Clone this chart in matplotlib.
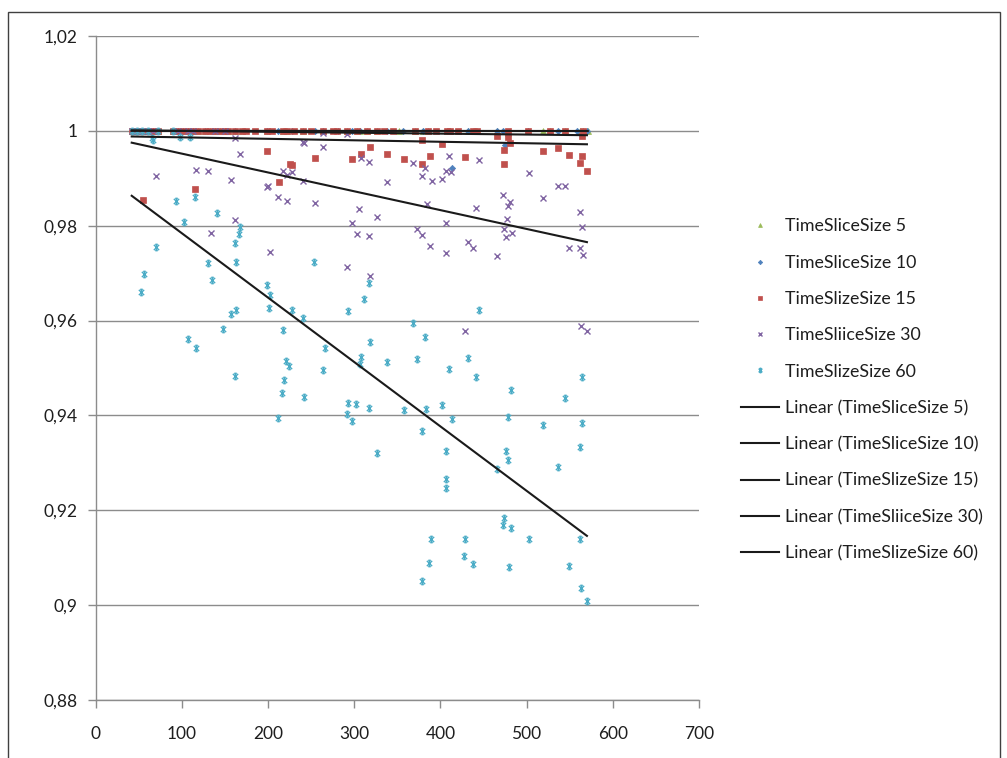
import numpy as np
import matplotlib
matplotlib.use("Agg")
import matplotlib.pyplot as plt
from matplotlib.path import Path
from matplotlib.patches import Rectangle

plt.rcParams['font.family'] = ['Lato', 'DejaVu Sans']

# ---------------- data ----------------
y_ticks = [0.88, 0.90, 0.92, 0.94, 0.96, 0.98, 1.00, 1.02]
y_tick_labels = ["0,88", "0,9", "0,92", "0,94", "0,96", "0,98", "1", "1,02"]
x_ticks = [0, 100, 200, 300, 400, 500, 600, 700]
x_tick_labels = ["0", "100", "200", "300", "400", "500", "600", "700"]

series_names = ["TimeSliceSize 5", "TimeSliceSize 10", "TimeSlizeSize 15",
                "TimeSliiceSize 30", "TimeSlizeSize 60"]

tss5_x = [42, 48, 54, 61, 67, 72.5, 90, 96, 101.5, 107, 113, 119, 127, 133, 139, 144,
          150, 154, 162, 170, 199, 217.5, 222, 241, 264, 292, 303, 307, 315, 326.5,
          352, 371, 380, 386, 408, 411, 432, 438, 442.5, 466, 478.5, 502, 519, 527,
          544, 562, 565, 571]
tss5_y = [1.0, 1.0, 1.0, 1.0, 1.0, 1.0, 1.0, 1.0, 1.0, 1.0, 1.0, 1.0, 1.0, 1.0, 1.0, 1.0,
          1.0, 1.0, 1.0, 1.0, 1.0, 1.0, 1.0, 1.0, 1.0, 1.0, 1.0, 1.0, 1.0, 1.0,
          1.0, 1.0, 1.0, 1.0, 1.0, 1.0, 1.0, 1.0, 1.0, 1.0, 0.9996, 1.0, 1.0, 1.0,
          1.0, 1.0, 1.0, 1.0]

tss10_x = [42, 48, 54, 61, 67, 90, 96, 101.5, 107, 113, 127, 139, 150, 162, 199, 212,
           228, 255, 264, 281, 297.5, 307, 338, 357, 380, 413.5, 432, 466, 473, 475,
           502, 537, 558, 570]
tss10_y = [1.0, 1.0, 1.0, 1.0, 1.0, 1.0, 1.0, 1.0, 1.0, 1.0, 1.0, 1.0, 1.0, 1.0, 1.0, 1.0,
           1.0, 1.0, 1.0, 1.0, 1.0, 1.0, 1.0, 1.0, 1.0, 0.9922, 1.0, 1.0, 1.0, 0.9970,
           1.0, 1.0, 1.0, 1.0]

tss15_x = [42, 48, 54, 61, 67, 72.5, 90, 96, 101.5, 107, 113, 119, 127, 133, 139, 144,
           150, 154, 162, 170, 175, 185, 199, 205, 217.5, 222, 230, 241, 250, 264, 275,
           280, 292, 303, 315, 326.5, 335, 345, 371, 386, 395, 408, 411, 420, 438,
           442.5, 478.5, 502, 527, 544, 565,
           55, 115.5, 199, 213, 226, 228, 254.5, 297.5, 308, 318, 338, 358, 379, 379,
           388, 401.5, 429, 466, 474, 474, 481, 478, 519, 537, 549.5, 562, 564, 564, 570]
tss15_y = [1.0, 1.0, 1.0, 1.0, 1.0, 1.0, 1.0, 1.0, 1.0, 1.0, 1.0, 1.0, 1.0, 1.0, 1.0, 1.0,
           1.0, 1.0, 1.0, 1.0, 1.0, 1.0, 1.0, 1.0, 1.0, 1.0, 1.0, 1.0, 1.0, 1.0, 1.0,
           1.0, 1.0, 1.0, 1.0, 1.0, 1.0, 1.0, 1.0, 1.0, 1.0, 1.0, 1.0, 1.0, 1.0,
           1.0, 1.0, 1.0, 1.0, 1.0, 1.0,
           0.9855, 0.9878, 0.9958, 0.9893, 0.9931, 0.9928, 0.9943, 0.9941, 0.9952,
           0.9966, 0.9952, 0.9941, 0.9931, 0.9981, 0.9947, 0.9973, 0.9945, 0.9990,
           0.9960, 0.9930, 0.9975, 0.9988, 0.9958, 0.9964, 0.9949, 0.9932, 0.9947,
           0.9990, 0.9916]

tss30_x = [42, 48, 54, 61, 67, 96, 107, 113, 139, 150,
           70, 116.5, 130.5, 157, 162, 168, 199, 200, 211.5, 222, 217.5, 222, 228, 241,
           242, 264, 254.5, 162, 134, 202.5, 292, 292, 410, 445, 368.5, 382, 379, 406.5,
           412, 401.5, 390, 338, 317, 308, 502.5, 537, 544, 519, 473, 481, 478.5, 441,
           562, 306, 327, 297.5, 406.5, 477, 384, 303, 317, 373, 379, 474, 483, 476, 564,
           432, 438, 388, 406.5, 466, 549.5, 562, 565, 318, 429, 563, 570, 241, 264]
tss30_y = [1.0, 1.0, 1.0, 1.0, 1.0, 1.0, 1.0, 1.0, 1.0, 1.0,
           0.9905, 0.9918, 0.9916, 0.9897, 0.9985, 0.9951, 0.9882, 0.9884, 0.9861,
           0.9853, 0.9916, 0.9907, 0.9914, 0.9895, 0.9975, 0.9966, 0.9848, 0.9813,
           0.9785, 0.9745, 0.9714, 0.9994, 0.9947, 0.9939, 0.9933, 0.9922, 0.9905,
           0.9916, 0.9914, 0.9899, 0.9895, 0.9893, 0.9935, 0.9943, 0.9912, 0.9884,
           0.9884, 0.9859, 0.9865, 0.9851, 0.9842, 0.9838, 0.9829, 0.9836, 0.9819,
           0.9806, 0.9806, 0.9815, 0.9846, 0.9783, 0.9779, 0.9794, 0.9781, 0.9794,
           0.9785, 0.9777, 0.9798, 0.9766, 0.9752, 0.9758, 0.9743, 0.9737, 0.9752,
           0.9752, 0.9739, 0.9695, 0.9577, 0.9589, 0.9579, 0.9977, 0.9996]

tss60_x = [42, 48, 54, 61, 72.5, 90,
           65.5, 98, 109.5, 67, 93, 115.5, 141, 102.5, 168, 166.5, 162, 70, 130.5, 163,
           56, 135, 52.5, 199, 202.5, 253.5, 201, 228, 241, 157, 163, 293, 148, 217.5,
           107.5, 116.5, 266, 221, 224.5, 264, 162, 219, 216, 242, 293, 292, 212, 317,
           311, 445, 368.5, 382, 318.5, 308, 307, 338, 373, 432, 410, 441, 564, 482,
           544, 302, 317, 358, 383.5, 401.5, 297.5, 413.5, 478.5, 519, 564, 379, 327,
           406.5, 476, 562, 478.5, 466, 537, 406.5, 406.5, 474, 473, 482, 389, 429,
           503, 562, 428, 438, 387, 480, 549.5, 379, 563, 570]
tss60_y = [1.0, 1.0, 1.0, 1.0, 1.0, 1.0,
           0.9985, 0.9987, 0.9987, 0.9981, 0.9853, 0.9861, 0.9827, 0.9808, 0.9798,
           0.9783, 0.9764, 0.9756, 0.9722, 0.9724, 0.9699, 0.9686, 0.9661, 0.9676,
           0.9653, 0.9724, 0.9627, 0.9623, 0.9606, 0.9613, 0.9623, 0.9621, 0.9583,
           0.9581, 0.9562, 0.9543, 0.9543, 0.9514, 0.9505, 0.9495, 0.9484, 0.9474,
           0.9448, 0.9438, 0.9427, 0.9404, 0.9394, 0.9680, 0.9646, 0.9623, 0.9594,
           0.9566, 0.9554, 0.9524, 0.9509, 0.9512, 0.9518, 0.9522, 0.9497, 0.9482,
           0.9482, 0.9453, 0.9436, 0.9425, 0.9415, 0.9411, 0.9413, 0.9423, 0.9389,
           0.9392, 0.9396, 0.9379, 0.9383, 0.9368, 0.9320, 0.9326, 0.9326, 0.9333,
           0.9307, 0.9288, 0.9292, 0.9267, 0.9248, 0.9183, 0.9168, 0.9162, 0.9139,
           0.9139, 0.9139, 0.9139, 0.9103, 0.9086, 0.9088, 0.9080, 0.9082, 0.9051,
           0.9036, 0.9008]

# ---------------- style ----------------
colors = ["#9BBB59", "#4F81BD", "#C0504D", "#8064A2", "#4BACC6"]
star = Path([(-1, -1), (1, 1), (-1, 1), (1, -1), (0, -1.2), (0, 1.2),
             (-0.45, 1.2), (0.45, 1.2), (-0.45, -1.2), (0.45, -1.2)],
            [Path.MOVETO, Path.LINETO, Path.MOVETO, Path.LINETO, Path.MOVETO, Path.LINETO,
             Path.MOVETO, Path.LINETO, Path.MOVETO, Path.LINETO])
markers = ["^", "D", "s", "x", star]
msizes = [4.0, 3.2, 4.3, 4.5, 4.6]
grid_col = "#8C8C8C"
text_col = "#1e1e1e"

W, H = 1007, 758
fig = plt.figure(figsize=(W / 100, H / 100), dpi=100)
fig.patch.set_facecolor("white")

# outer chart-area frame
fig.add_artist(Rectangle((8 / W, -0.05), (1000 - 8) / W, 0.05 + 1 - 12 / H,
                         transform=fig.transFigure, fill=False,
                         edgecolor="#404040", lw=1.0))

ax = fig.add_axes([95.5 / W, 1 - 700 / H, (699 - 95.5) / W, (700 - 36) / H])
ax.set_xlim(0, 700)
ax.set_ylim(0.88, 1.02)

for s in ["top", "right"]:
    ax.spines[s].set_visible(False)
for s in ["left", "bottom"]:
    ax.spines[s].set_color(grid_col)
    ax.spines[s].set_linewidth(1.0)

ax.set_yticks(y_ticks)
ax.set_yticklabels(y_tick_labels)
ax.set_xticks(x_ticks)
ax.set_xticklabels(x_tick_labels)
ax.tick_params(axis="both", colors=grid_col, labelcolor=text_col, labelsize=12.5,
               length=6, width=1.0, direction="out")
ax.tick_params(axis="y", pad=7)
ax.tick_params(axis="x", pad=13)
ax.yaxis.grid(True, color=grid_col, lw=1.0)
ax.set_axisbelow(True)

all_x = [tss5_x, tss10_x, tss15_x, tss30_x, tss60_x]
all_y = [tss5_y, tss10_y, tss15_y, tss30_y, tss60_y]

handles = []
for i in range(5):
    h, = ax.plot(all_x[i], all_y[i], linestyle="none", marker=markers[i],
                 markersize=msizes[i], color=colors[i],
                 markeredgewidth=(1.0 if i >= 3 else 0.5),
                 markeredgecolor=colors[i], label=series_names[i], zorder=3)
    handles.append(h)

line_handles = []
for i in range(5):
    xs = np.array(all_x[i], dtype=float)
    ys = np.array(all_y[i], dtype=float)
    k, b = np.polyfit(xs, ys, 1)
    xr = np.array([xs.min(), xs.max()])
    lh, = ax.plot(xr, k * xr + b, color="#1a1a1a", lw=1.5, zorder=4,
                  label="Linear (" + series_names[i] + ")")
    line_handles.append(lh)

leg = fig.legend(handles + line_handles,
                 [h.get_label() for h in handles + line_handles],
                 loc="center left", bbox_to_anchor=(741 / W, 1 - 390 / H),
                 frameon=False, fontsize=12.8, handlelength=2.15, handletextpad=0.3,
                 labelspacing=1.14, borderpad=0, borderaxespad=0, markerscale=0.7)
for t in leg.get_texts():
    t.set_color(text_col)

fig.savefig("out.png", dpi=100, facecolor="white")
